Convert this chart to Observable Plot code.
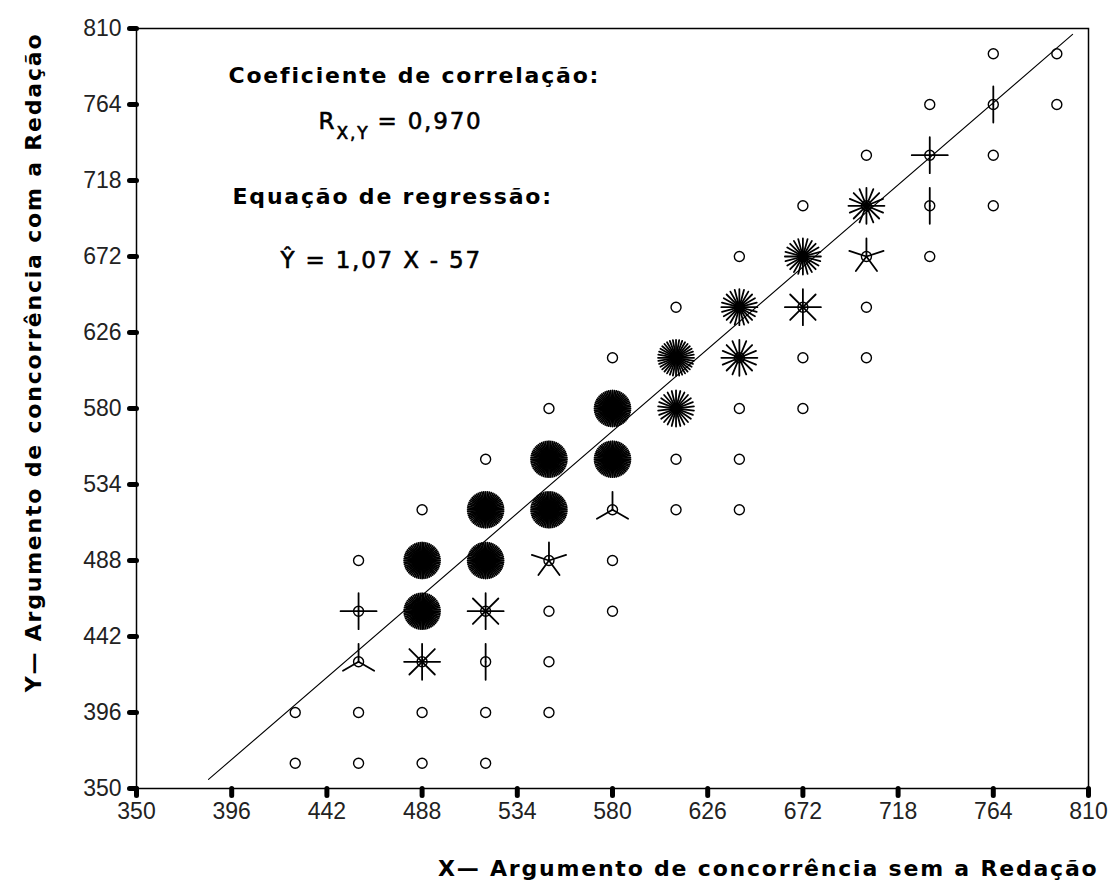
<!DOCTYPE html>
<html>
<head>
<meta charset="utf-8">
<script src="https://cdn.jsdelivr.net/npm/d3@7"></script>
<script src="https://cdn.jsdelivr.net/npm/@observablehq/plot@0.6"></script>
<style>
  body { margin: 0; background: #fff; }
  #chart svg { display: block; background: #fff; }
</style>
</head>
<body>
<div id="chart"></div>
<script>
// Tick values (both axes)
const xTicks = [350, 396, 442, 488, 534, 580, 626, 672, 718, 764, 810];
const yTicks = [350, 396, 442, 488, 534, 580, 626, 672, 718, 764, 810];

// Sunflower cells: X value, Y value, number of petals (0 = single circle)
const cellX = [
  426.7, 457.3, 488, 518.7,
  426.7, 457.3, 488, 518.7, 549.3,
  457.3, 488, 518.7, 549.3,
  457.3, 488, 518.7, 549.3, 580,
  457.3, 488, 518.7, 549.3, 580,
  488, 518.7, 549.3, 580, 610.7, 641.3,
  518.7, 549.3, 580, 610.7, 641.3,
  549.3, 580, 610.7, 641.3, 672,
  580, 610.7, 641.3, 672, 702.7,
  610.7, 641.3, 672, 702.7,
  641.3, 672, 702.7, 733.3,
  672, 702.7, 733.3, 764,
  702.7, 733.3, 764,
  733.3, 764, 794.7,
  764, 794.7
];
const cellY = [
  365.3, 365.3, 365.3, 365.3,
  396, 396, 396, 396, 396,
  426.7, 426.7, 426.7, 426.7,
  457.3, 457.3, 457.3, 457.3, 457.3,
  488, 488, 488, 488, 488,
  518.7, 518.7, 518.7, 518.7, 518.7, 518.7,
  549.3, 549.3, 549.3, 549.3, 549.3,
  580, 580, 580, 580, 580,
  610.7, 610.7, 610.7, 610.7, 610.7,
  641.3, 641.3, 641.3, 641.3,
  672, 672, 672, 672,
  702.7, 702.7, 702.7, 702.7,
  733.3, 733.3, 733.3,
  764, 764, 764,
  794.7, 794.7
];
const cellPetals = [
  0, 0, 0, 0,
  0, 0, 0, 0, 0,
  3, 8, 2, 0,
  4, 60, 8, 0, 0,
  0, 60, 60, 5, 0,
  0, 60, 60, 3, 0, 0,
  0, 60, 60, 0, 0,
  0, 60, 26, 0, 0,
  0, 36, 16, 0, 0,
  0, 24, 8, 0,
  0, 24, 5, 0,
  0, 16, 2, 0,
  0, 4, 0,
  0, 2, 0,
  0, 0
];

// Regression line end points
const lineX = [384.8, 802.3];
const lineY = [355.5, 806.4];

// Texts
const titleCorr = "Coeficiente de correlação:";
const corrR = "R";
const corrSub = "X,Y";
const corrValue = "= 0,970";
const titleReg = "Equação de regressão:";
const regEq = "Ŷ = 1,07 X - 57";
const xLabel = "X— Argumento de concorrência sem a Redação";
const yLabel = "Y— Argumento de concorrência com a Redação";

const cells = cellX.map((x, i) => ({x, y: cellY[i], n: cellPetals[i]}));
const petals = cells.flatMap(c => d3.range(c.n).map(k => ({x: c.x, y: c.y, angle: k * 360 / c.n})));
const regLine = lineX.map((x, i) => ({x, y: lineY[i]}));

const bold = {fontFamily: "DejaVu Sans", fontWeight: "bold", fontSize: 22, fill: "#000"};
const reg = {fontFamily: "DejaVu Sans", fontWeight: "normal", fontSize: 23, fill: "#000", stroke: "#000", strokeWidth: 0.6};

const chart = Plot.plot({
  width: 1110,
  height: 884,
  marginLeft: 136,
  marginRight: 22,
  marginTop: 28,
  marginBottom: 96,
  style: {fontFamily: "Liberation Sans", background: "#fff", color: "#000"},
  x: {domain: [350, 810]},
  y: {domain: [350, 810]},
  marks: [
    Plot.frame({stroke: "#000", strokeWidth: 1.5}),
    Plot.axisX(xTicks, {tickSize: 0, tickPadding: 14, fontSize: 23, fill: "#222", tickFormat: d => String(d), label: null}),
    Plot.axisY(yTicks, {tickSize: 0, tickPadding: 15, fontSize: 23, fill: "#222", tickFormat: d => String(d), label: null}),
    Plot.vector(xTicks, {x: d => d, frameAnchor: "bottom", rotate: 180, length: 7, anchor: "start", r: 0, stroke: "#000", strokeWidth: 5}),
    Plot.vector(yTicks, {y: d => d, frameAnchor: "left", rotate: -90, length: 7, anchor: "start", r: 0, stroke: "#000", strokeWidth: 5}),
    Plot.line(regLine, {x: "x", y: "y", stroke: "#000", strokeWidth: 1.1}),
    Plot.vector(petals, {x: "x", y: "y", rotate: "angle", length: 18, anchor: "start", r: 0, stroke: "#000", strokeWidth: 1.8}),
    Plot.dot(cells, {x: "x", y: "y", r: 5, stroke: "#000", strokeWidth: 1.4, fill: "none"}),
    Plot.text([titleCorr], {text: d => d, frameAnchor: "top-left", textAnchor: "start", lineAnchor: "bottom", dx: 92, dy: 54, ...bold}),
    Plot.text([corrR], {text: d => d, frameAnchor: "top-left", textAnchor: "start", lineAnchor: "bottom", dx: 182, dy: 100, ...reg}),
    Plot.text([corrSub], {text: d => d, frameAnchor: "top-left", textAnchor: "start", lineAnchor: "bottom", dx: 200, dy: 110, ...reg, fontSize: 17}),
    Plot.text([corrValue], {text: d => d, frameAnchor: "top-left", textAnchor: "start", lineAnchor: "bottom", dx: 241, dy: 100, ...reg}),
    Plot.text([titleReg], {text: d => d, frameAnchor: "top-left", textAnchor: "start", lineAnchor: "bottom", dx: 96, dy: 175, ...bold}),
    Plot.text([regEq], {text: d => d, frameAnchor: "top-left", textAnchor: "start", lineAnchor: "bottom", dx: 144, dy: 239, ...reg}),
    Plot.text([xLabel], {text: d => d, frameAnchor: "bottom-right", textAnchor: "end", lineAnchor: "bottom", dx: 10, dy: 87, ...bold}),
    Plot.text([yLabel], {text: d => d, frameAnchor: "left", rotate: -90, textAnchor: "middle", lineAnchor: "bottom", dx: -96, dy: -46, ...bold})
  ]
});

d3.select(chart).selectAll("g[aria-label='text'] text").style("letter-spacing", "1.8px");
document.getElementById("chart").appendChild(chart);
</script>
</body>
</html>
